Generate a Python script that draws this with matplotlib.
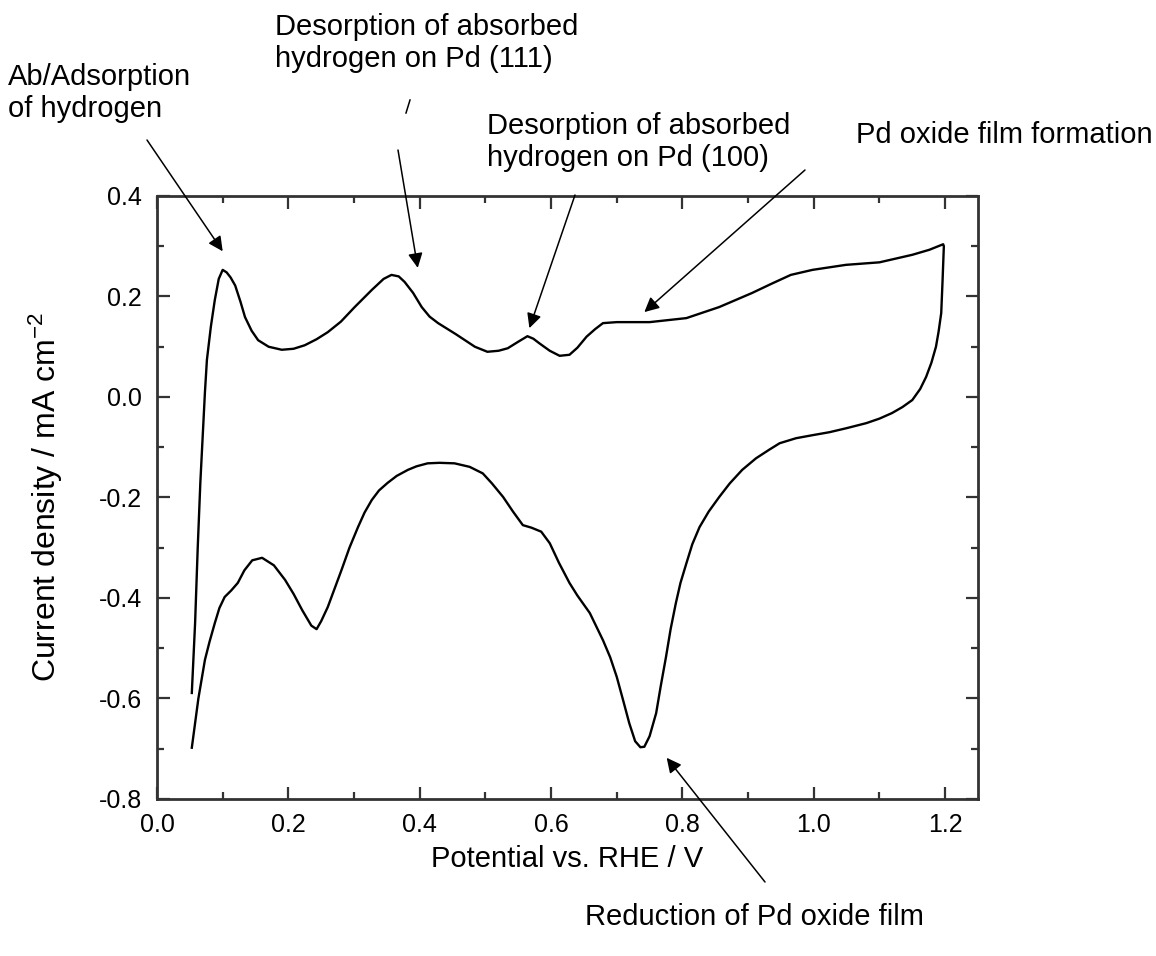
import numpy as np
import matplotlib.pyplot as plt
from matplotlib.ticker import MultipleLocator

plt.rcParams['font.family'] = ['Liberation Sans', 'DejaVu Sans']
plt.rcParams['mathtext.fontset'] = 'custom'
plt.rcParams['mathtext.rm'] = 'Liberation Sans'
plt.rcParams['mathtext.default'] = 'regular'

# anodic sweep (0.05 V -> 1.2 V)
E_anodic = [0.053, 0.058, 0.062, 0.066, 0.070, 0.073, 0.076, 0.082, 0.088, 0.094,
            0.100, 0.106, 0.112, 0.119, 0.127, 0.134, 0.144, 0.154, 0.170, 0.190,
            0.208, 0.225, 0.243, 0.260, 0.280, 0.301, 0.327, 0.345, 0.357, 0.368,
            0.377, 0.390, 0.403, 0.415, 0.428, 0.455, 0.484, 0.503, 0.520, 0.534,
            0.550, 0.564, 0.573, 0.582, 0.598, 0.613, 0.628, 0.640, 0.654, 0.667,
            0.679, 0.700, 0.750, 0.806, 0.856, 0.906, 0.935, 0.965, 0.998, 1.049,
            1.100, 1.150, 1.176, 1.197]
j_anodic = [-0.589, -0.45, -0.30, -0.17, -0.066, 0.01, 0.074, 0.14, 0.193, 0.235,
            0.253, 0.248, 0.238, 0.222, 0.19, 0.159, 0.132, 0.113, 0.100, 0.094,
            0.096, 0.103, 0.115, 0.129, 0.150, 0.179, 0.213, 0.235, 0.243, 0.240,
            0.229, 0.207, 0.179, 0.160, 0.147, 0.125, 0.100, 0.090, 0.092, 0.097,
            0.110, 0.121, 0.116, 0.107, 0.092, 0.082, 0.084, 0.098, 0.120, 0.135,
            0.147, 0.149, 0.149, 0.157, 0.179, 0.207, 0.225, 0.243, 0.253, 0.263,
            0.268, 0.283, 0.293, 0.304]

# cathodic sweep (1.2 V -> 0.05 V)
E_cathodic = [1.198, 1.196, 1.194, 1.190, 1.186, 1.179, 1.171, 1.162, 1.150, 1.135,
              1.119, 1.100, 1.080, 1.050, 1.024, 0.998, 0.973, 0.948, 0.932, 0.912,
              0.891, 0.872, 0.856, 0.840, 0.826, 0.815, 0.806, 0.797, 0.790, 0.782,
              0.775, 0.767, 0.760, 0.750, 0.742, 0.736, 0.728, 0.719, 0.710, 0.700,
              0.690, 0.679, 0.659, 0.640, 0.628, 0.612, 0.598, 0.585, 0.570, 0.557,
              0.542, 0.527, 0.510, 0.496, 0.476, 0.453, 0.430, 0.412, 0.395, 0.382,
              0.365, 0.351, 0.338, 0.327, 0.316, 0.306, 0.293, 0.281, 0.270, 0.260,
              0.250, 0.243, 0.235, 0.221, 0.208, 0.195, 0.178, 0.160, 0.145, 0.133,
              0.123, 0.113, 0.103, 0.095, 0.088, 0.080, 0.073, 0.063, 0.053]
j_cathodic = [0.300, 0.230, 0.167, 0.130, 0.100, 0.068, 0.040, 0.016, -0.006, -0.020,
              -0.032, -0.043, -0.052, -0.062, -0.070, -0.076, -0.082, -0.092, -0.105, -0.122,
              -0.145, -0.172, -0.199, -0.228, -0.259, -0.293, -0.331, -0.370, -0.410, -0.462,
              -0.517, -0.575, -0.629, -0.675, -0.696, -0.697, -0.685, -0.649, -0.605, -0.557,
              -0.518, -0.484, -0.430, -0.395, -0.370, -0.330, -0.291, -0.268, -0.260, -0.255,
              -0.228, -0.199, -0.172, -0.152, -0.139, -0.132, -0.131, -0.132, -0.138, -0.145,
              -0.157, -0.171, -0.186, -0.205, -0.230, -0.259, -0.300, -0.344, -0.383, -0.418,
              -0.446, -0.462, -0.455, -0.424, -0.392, -0.364, -0.335, -0.320, -0.325, -0.345,
              -0.370, -0.385, -0.398, -0.420, -0.450, -0.487, -0.523, -0.600, -0.698]

W, H = 1156, 956
fig = plt.figure(figsize=(W / 100, H / 100), dpi=100)
ax = fig.add_axes([157 / W, 1 - 799 / H, (978 - 157) / W, (799 - 196) / H])

ax.plot(E_anodic + E_cathodic, j_anodic + j_cathodic, color='black', lw=1.7,
        solid_joinstyle='round')

ax.set_xlim(0.0, 1.25)
ax.set_ylim(-0.8, 0.4)
ax.xaxis.set_major_locator(MultipleLocator(0.2))
ax.xaxis.set_minor_locator(MultipleLocator(0.1))
ax.yaxis.set_major_locator(MultipleLocator(0.2))
ax.yaxis.set_minor_locator(MultipleLocator(0.1))
ax.xaxis.set_major_formatter(plt.FormatStrFormatter('%.1f'))
ax.yaxis.set_major_formatter(plt.FormatStrFormatter('%.1f'))
ax.tick_params(which='both', direction='in', top=True, right=True,
               width=1.6, color='#333333', labelsize=18)
ax.tick_params(axis='x', pad=10)
ax.tick_params(axis='y', pad=11)
ax.tick_params(which='major', length=9)
ax.tick_params(which='minor', length=5)
for s in ax.spines.values():
    s.set_linewidth(2.0)
    s.set_color('#333333')

ax.set_xlabel('Potential vs. RHE / V', fontsize=21, labelpad=6)
ax.set_ylabel('Current density / mA cm$^{-2}$', fontsize=23, labelpad=24)


def px(x, y):
    # top-left pixel -> figure fraction
    return (x / W, 1 - y / H)


arrow = dict(arrowstyle='-|>', mutation_scale=22, lw=1.1, color='black',
             shrinkA=0, shrinkB=0)

# arrows: tip in data coords, tail in figure pixels
ax.annotate('', xy=(0.100, 0.29), xytext=px(147, 140), textcoords='figure fraction',
            arrowprops=arrow)
ax.annotate('', xy=(0.397, 0.257), xytext=px(398, 150), textcoords='figure fraction',
            arrowprops=arrow)
fig.add_artist(plt.Line2D([410 / W, 406 / W], [1 - 100 / H, 1 - 113 / H],
                          color='black', lw=1.1))
ax.annotate('', xy=(0.567, 0.137), xytext=px(575, 195), textcoords='figure fraction',
            arrowprops=arrow)
ax.annotate('', xy=(0.742, 0.169), xytext=px(805, 170), textcoords='figure fraction',
            arrowprops=arrow)
ax.annotate('', xy=(0.776, -0.718), xytext=px(765, 882), textcoords='figure fraction',
            arrowprops=arrow)

fs = 21
fig.text(*px(8, 63), 'Ab/Adsorption\nof hydrogen', fontsize=fs, va='top',
         linespacing=1.2)
fig.text(*px(275, 13), 'Desorption of absorbed\nhydrogen on Pd (111)', fontsize=fs,
         va='top', linespacing=1.2)
fig.text(*px(487, 112), 'Desorption of absorbed\nhydrogen on Pd (100)', fontsize=fs,
         va='top', linespacing=1.2)
fig.text(*px(1153, 135), 'Pd oxide film formation', fontsize=fs, va='center',
         ha='right')
fig.text(*px(585, 917), 'Reduction of Pd oxide film', fontsize=fs, va='center')

fig.savefig('out.png', dpi=100)
